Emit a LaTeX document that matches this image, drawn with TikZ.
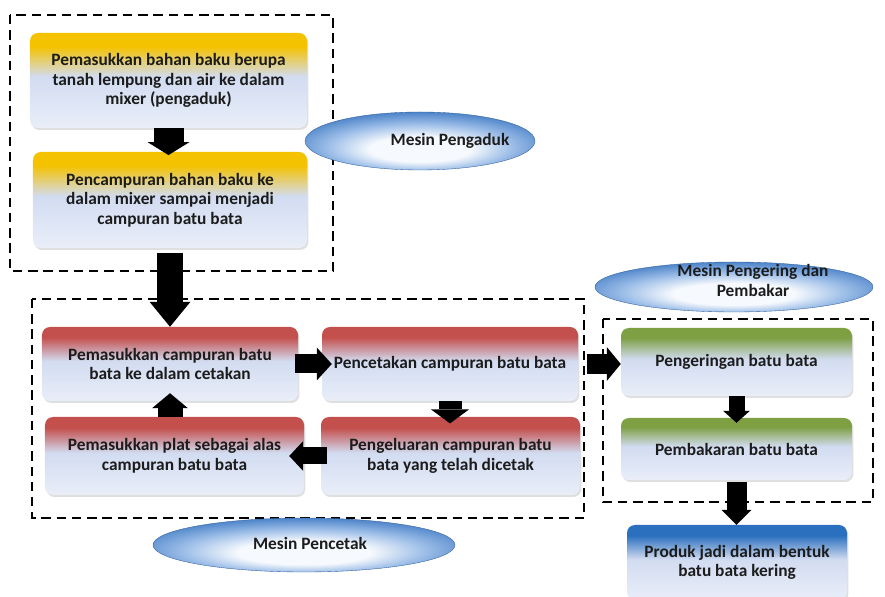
\documentclass[tikz,border=0pt]{standalone}
\usepackage{fontspec}
\setmainfont{Carlito}
\usetikzlibrary{arrows.meta,shapes.geometric,shadows}
\definecolor{BoxLow}{HTML}{E9EEF8}
\definecolor{BoxMid}{HTML}{D2DCF1}
\definecolor{YellowTop}{HTML}{F5C200}
\definecolor{RedTop}{HTML}{C4504E}
\definecolor{GreenTop}{HTML}{7E9F42}
\definecolor{BlueTop}{HTML}{2B70BE}
\definecolor{CapsuleDark}{HTML}{3A76C2}
\definecolor{CapsuleMid}{HTML}{9DBEE8}
\definecolor{CapsuleLight}{HTML}{F6F9FD}
\definecolor{TextClr}{HTML}{1C1C1C}

\pgfdeclareverticalshading{yellowbox}{100bp}{color(0bp)=(BoxLow); color(25bp)=(BoxLow); color(52bp)=(BoxMid); color(68bp)=(YellowTop); color(100bp)=(YellowTop)}
\pgfdeclareverticalshading{redbox}{100bp}{color(0bp)=(BoxLow); color(25bp)=(BoxLow); color(52bp)=(BoxMid); color(68bp)=(RedTop); color(100bp)=(RedTop)}
\pgfdeclareverticalshading{greenbox}{100bp}{color(0bp)=(BoxLow); color(25bp)=(BoxLow); color(52bp)=(BoxMid); color(68bp)=(GreenTop); color(100bp)=(GreenTop)}
\pgfdeclareverticalshading{bluebox}{100bp}{color(0bp)=(BoxLow); color(25bp)=(BoxLow); color(52bp)=(BoxMid); color(68bp)=(BlueTop); color(100bp)=(BlueTop)}
\pgfdeclareradialshading{capsule}{\pgfpoint{0bp}{-9bp}}{color(0bp)=(CapsuleLight); color(11bp)=(CapsuleLight); color(20bp)=(CapsuleMid); color(31bp)=(CapsuleDark); color(50bp)=(CapsuleDark)}

\tikzset{
  stepbox/.style={rectangle, rounded corners=2.4mm, align=center, inner sep=0pt,
    font=\bfseries\fontsize{14.8}{16.8}\selectfont, text=TextClr,
    drop shadow={shadow xshift=0.4mm, shadow yshift=-0.6mm, opacity=0.25}},
  yellowstep/.style={stepbox, shading=yellowbox},
  redstep/.style={stepbox, shading=redbox},
  greenstep/.style={stepbox, shading=greenbox},
  bluestep/.style={stepbox, shading=bluebox},
  machine/.style={ellipse, shading=capsule, draw=CapsuleDark!80!black, line width=0.3pt, inner sep=0pt},
  machinetext/.style={align=center, font=\bfseries\fontsize{14.8}{16.8}\selectfont, text=TextClr},
  groupframe/.style={draw=black, line width=1.5pt, dash pattern=on 8pt off 5pt},
  flow/.style n args={3}{line width=#1, -{Triangle[width=#2, length=#3, line width=0pt]}}
}

\begin{document}
\begin{tikzpicture}[x=0.3mm, y=0.3mm]
\useasboundingbox (0,0) rectangle (885,596);

\draw[groupframe] (10,581) rectangle (333,325);
\draw[groupframe] (32,297) rectangle (584,78);
\draw[groupframe] (603,277) rectangle (873,94);

\node[yellowstep, minimum width=83.1mm, minimum height=28.5mm] (pemasukanbahan) at (168.5,515.5)
  {Pemasukkan bahan baku berupa\\tanah lempung dan air ke dalam\\mixer (pengaduk)};
\node[yellowstep, minimum width=82.2mm, minimum height=28.8mm] (pencampuran) at (170,396)
  {Pencampuran bahan baku ke\\dalam mixer sampai menjadi\\campuran batu bata};

\node[redstep, minimum width=76.8mm, minimum height=22.2mm] (pemasukancampuran) at (170,232)
  {Pemasukkan campuran batu\\bata ke dalam cetakan};
\node[redstep, minimum width=76.8mm, minimum height=22.2mm] (pencetakan) at (450,232)
  {Pencetakan campuran batu bata};
\node[redstep, minimum width=77.7mm, minimum height=23.4mm] (pemasukanplat) at (174.5,140)
  {Pemasukkan plat sebagai alas\\campuran batu bata};
\node[redstep, minimum width=77.7mm, minimum height=23.4mm] (pengeluaran) at (450.5,140)
  {Pengeluaran campuran batu\\bata yang telah dicetak};

\node[greenstep, minimum width=69.3mm, minimum height=20.4mm] (pengeringan) at (736.5,234)
  {Pengeringan batu bata};
\node[greenstep, minimum width=69.3mm, minimum height=18.6mm] (pembakaran) at (736.5,147)
  {Pembakaran batu bata};
\node[bluestep, minimum width=66mm, minimum height=22.5mm] (produk) at (737,33.5)
  {Produk jadi dalam bentuk\\batu bata kering};

\node[machine, minimum width=69mm, minimum height=17.4mm] (mpengaduk) at (420,455) {};
\node[machinetext] (tpengaduk) at ([xshift=9mm]mpengaduk.center) {Mesin Pengaduk};
\node[machine, minimum width=90.6mm, minimum height=16.2mm] (mpencetak) at (304,51) {};
\node[machinetext] (tpencetak) at ([xshift=1.8mm,yshift=0.5mm]mpencetak.center) {Mesin Pencetak};
\node[machine, minimum width=83.4mm, minimum height=15mm] (mpengering) at (734,309) {};
\node[machinetext] (tpengering) at ([xshift=5.7mm,yshift=2mm]mpengering.center) {Mesin Pengering dan\\Pembakar};

\draw[flow={9mm}{12.6mm}{3.9mm}, shorten >=-1mm] (pemasukanbahan.south) -- (pemasukanbahan.south |- pencampuran.north);
\draw[flow={7.8mm}{12.3mm}{7.5mm}, shorten <=1.5mm] (pencampuran.south) -- (pencampuran.south |- pemasukancampuran.north);
\draw[flow={5.7mm}{9.9mm}{4.5mm}, shorten <=-1mm, shorten >=-3mm] (pemasukancampuran.east) -- (pencetakan.west);
\draw[flow={6.9mm}{11.4mm}{4.2mm}, shorten >=-2mm] (pencetakan.south) -- (pencetakan.south |- pengeluaran.north);
\draw[flow={5.1mm}{9mm}{4.2mm}, shorten <=-2mm, shorten >=-4.5mm] (pengeluaran.west) -- (pengeluaran.west -| pemasukanplat.east);
\draw[flow={7.5mm}{10.8mm}{4.5mm}, shorten >=-2.4mm] (pemasukanplat.north -| pemasukancampuran.south) -- (pemasukancampuran.south);
\draw[flow={6mm}{10.2mm}{4.2mm}, shorten <=2.7mm] (pencetakan.east) -- (pencetakan.east -| pengeringan.west);
\draw[flow={4.8mm}{8.1mm}{3.6mm}, shorten >=-1.5mm] (pengeringan.south) -- (pembakaran.north);
\draw[flow={6mm}{9mm}{4.5mm}, shorten <=0.6mm] (pembakaran.south) -- (pembakaran.south |- produk.north);
\end{tikzpicture}
\end{document}
